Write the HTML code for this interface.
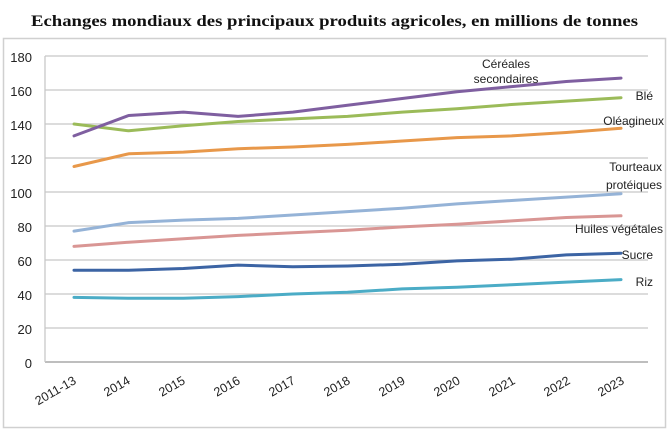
<!DOCTYPE html>
<html><head><meta charset="utf-8"><style>
html,body{margin:0;padding:0;background:#fff;}
svg{display:block;}
</style></head><body>
<svg width="670" height="447" viewBox="0 0 670 447" xmlns="http://www.w3.org/2000/svg">
<rect width="670" height="447" fill="#fff"/>
<text x="31" y="26" font-family="Liberation Serif, serif" font-weight="bold" font-size="16" fill="#111" textLength="607" lengthAdjust="spacingAndGlyphs">Echanges mondiaux des principaux produits agricoles, en millions de tonnes</text>
<rect x="3.5" y="38.5" width="662" height="389" fill="#fff" stroke="#d0d0d0" stroke-width="1.5"/>
<g stroke="#c8c8c8" stroke-width="1.3">
<line x1="45" x2="648" y1="56" y2="56"/><line x1="45" x2="648" y1="90" y2="90"/><line x1="45" x2="648" y1="124" y2="124"/><line x1="45" x2="648" y1="158" y2="158"/><line x1="45" x2="648" y1="192" y2="192"/><line x1="45" x2="648" y1="226" y2="226"/><line x1="45" x2="648" y1="260" y2="260"/><line x1="45" x2="648" y1="294" y2="294"/><line x1="45" x2="648" y1="328" y2="328"/>
</g>
<line x1="45" x2="648" y1="362" y2="362" stroke="#a8a8a8" stroke-width="1.5"/>
<line x1="45" x2="45" y1="56" y2="362" stroke="#c8c8c8" stroke-width="1.3"/>
<g font-family="Liberation Sans, sans-serif" font-size="13" fill="#222" text-anchor="end">
<text x="32" y="62">180</text><text x="32" y="96">160</text><text x="32" y="130">140</text><text x="32" y="164">120</text><text x="32" y="198">100</text><text x="32" y="232">80</text><text x="32" y="266">60</text><text x="32" y="300">40</text><text x="32" y="334">20</text><text x="32" y="368">0</text>
</g>
<g font-family="Liberation Sans, sans-serif" font-size="12.5" fill="#222" text-anchor="end">
<text transform="translate(77,383) rotate(-30)">2011-13</text>
<text transform="translate(131,383) rotate(-30)">2014</text>
<text transform="translate(186,383) rotate(-30)">2015</text>
<text transform="translate(241,383) rotate(-30)">2016</text>
<text transform="translate(296,383) rotate(-30)">2017</text>
<text transform="translate(351,383) rotate(-30)">2018</text>
<text transform="translate(406,383) rotate(-30)">2019</text>
<text transform="translate(461,383) rotate(-30)">2020</text>
<text transform="translate(516,383) rotate(-30)">2021</text>
<text transform="translate(571,383) rotate(-30)">2022</text>
<text transform="translate(625,383) rotate(-30)">2023</text>
</g>
<g fill="none" stroke-width="3" stroke-linejoin="round" stroke-linecap="round">
<polyline stroke="#4bacc6" points="74,297.4 128.7,298.3 183.4,298.3 238.1,296.6 292.8,294 347.5,292.3 402.2,288.9 456.9,287.2 511.6,284.7 566.3,282.1 621,279.6"/>
<polyline stroke="#3c64a4" points="74,270.2 128.7,270.2 183.4,268.5 238.1,265.1 292.8,266.8 347.5,266 402.2,264.3 456.9,260.9 511.6,259.2 566.3,254.9 621,253.2"/>
<polyline stroke="#d99694" points="74,246.4 128.7,242.2 183.4,238.8 238.1,235.4 292.8,232.8 347.5,230.3 402.2,226.9 456.9,224.3 511.6,220.9 566.3,217.5 621,215.8"/>
<polyline stroke="#95b3d7" points="74,231.1 128.7,222.6 183.4,220.1 238.1,218.4 292.8,215 347.5,211.6 402.2,208.2 456.9,203.9 511.6,200.5 566.3,197.1 621,193.7"/>
<polyline stroke="#e8984a" points="74,166.5 128.7,153.8 183.4,152.1 238.1,148.7 292.8,147 347.5,144.4 402.2,141 456.9,137.6 511.6,135.9 566.3,132.5 621,128.3"/>
<polyline stroke="#9bbb59" points="74,124 128.7,130.8 183.4,125.7 238.1,121.5 292.8,118.9 347.5,116.4 402.2,112.1 456.9,108.7 511.6,104.5 566.3,101.1 621,97.7"/>
<polyline stroke="#7f5fa0" points="74,135.9 128.7,115.5 183.4,112.1 238.1,116.4 292.8,112.1 347.5,105.3 402.2,98.5 456.9,91.7 511.6,86.6 566.3,81.5 621,78.1"/>
</g>
<g font-family="Liberation Sans, sans-serif" font-size="12" fill="#222">
<text x="506" y="68" text-anchor="middle">Céréales</text>
<text x="506" y="83" text-anchor="middle">secondaires</text>
<text x="653" y="100" text-anchor="end">Blé</text>
<text x="664" y="125" text-anchor="end">Oléagineux</text>
<text x="662" y="171" text-anchor="end">Tourteaux</text>
<text x="662" y="189" text-anchor="end">protéiques</text>
<text x="663" y="233" text-anchor="end">Huiles végétales</text>
<text x="653" y="259" text-anchor="end">Sucre</text>
<text x="653" y="286" text-anchor="end">Riz</text>
</g>
</svg>
</body></html>
